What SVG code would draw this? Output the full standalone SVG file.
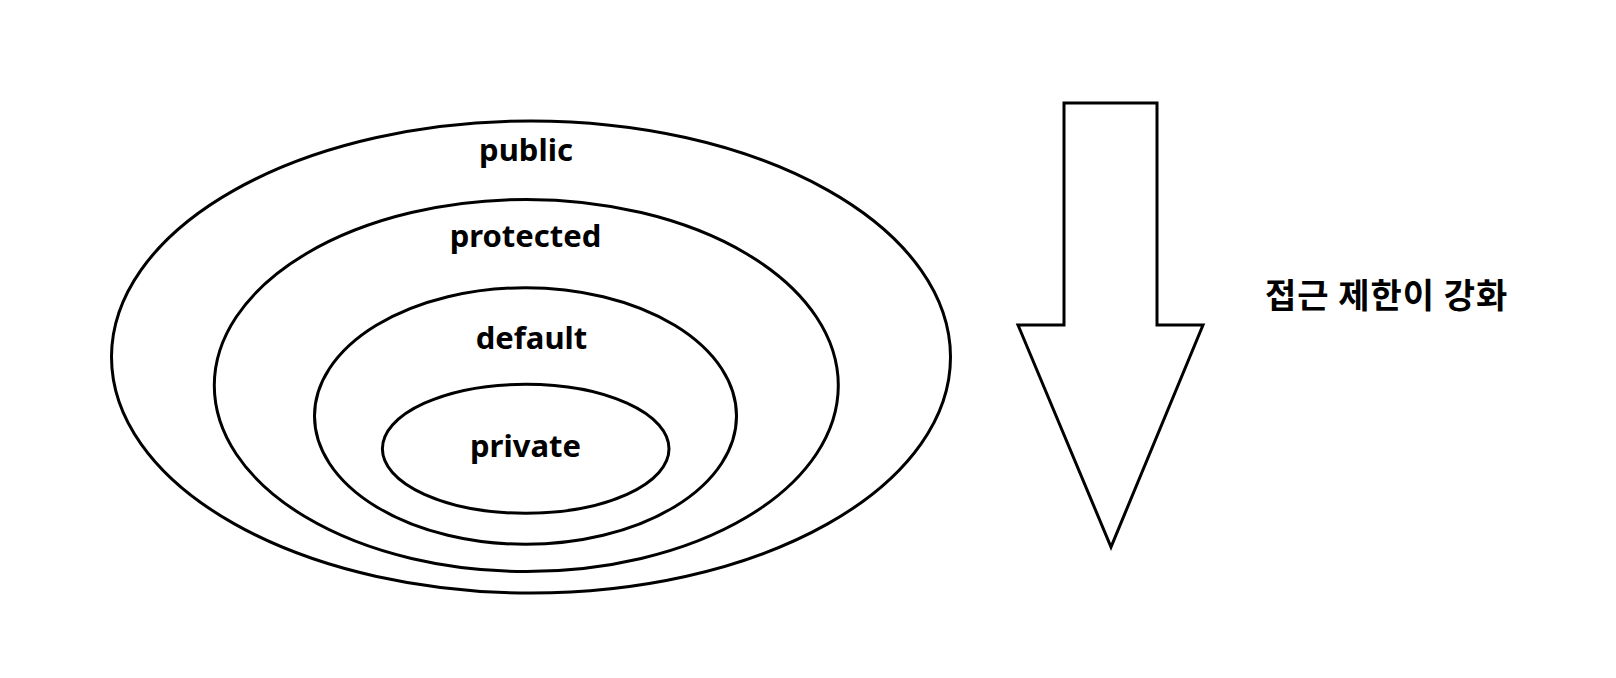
<svg xmlns="http://www.w3.org/2000/svg" width="1616" height="678" viewBox="0 0 1616 678">
<style>
.shape{fill:none;stroke:#000;stroke-width:3}
.lbl{font-family:"Noto Sans","Open Sans","Liberation Sans",sans-serif;font-weight:bold;font-size:31px;fill:#000;text-anchor:middle}
.kr{font-family:"Noto Sans CJK KR","Noto Sans",sans-serif;font-weight:bold;font-size:34px;letter-spacing:1px;fill:#000}
</style>
<rect width="1616" height="678" fill="#fff"/>
<g id="public">
<ellipse class="shape" cx="531" cy="357" rx="419.5" ry="236"/>
<text class="lbl" x="526" y="161">public</text>
</g>
<g id="protected">
<ellipse class="shape" cx="526.3" cy="385.5" rx="312" ry="186"/>
<text class="lbl" x="525.5" y="247">protected</text>
</g>
<g id="default">
<ellipse class="shape" cx="525.5" cy="416" rx="211" ry="128.3"/>
<text class="lbl" x="531.5" y="349">default</text>
</g>
<g id="private">
<ellipse class="shape" cx="525.7" cy="448.8" rx="143.3" ry="64.5"/>
<text class="lbl" x="525.5" y="457">private</text>
</g>
<g id="arrow">
<polygon class="shape" points="1064,103 1157,103 1157,325 1203,325 1111,547 1018,325 1064,325"/>
</g>
<g id="label-strength">
<text class="kr" x="1265" y="308">접근 제한이 강화</text>
</g>
<g id="connectors"></g>
</svg>
